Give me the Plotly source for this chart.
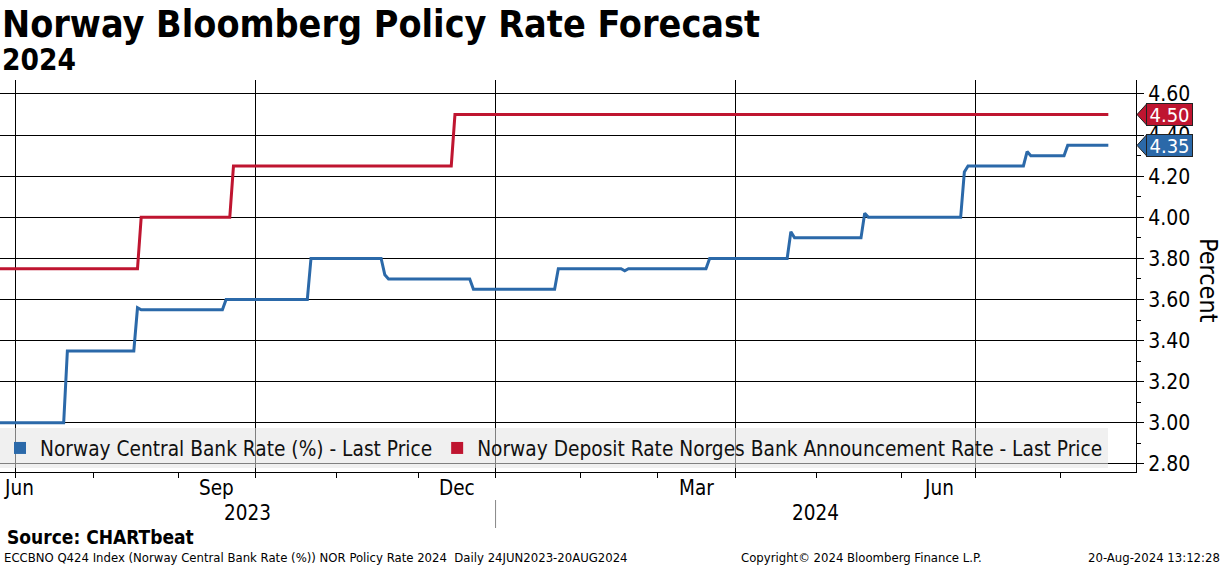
import plotly.graph_objects as go

# ---------------- data ----------------
TITLE = "Norway Bloomberg Policy Rate Forecast"
SUBTITLE = "2024"

BLUE_NAME = "Norway Central Bank Rate (%) - Last Price"
RED_NAME = "Norway Deposit Rate Norges Bank Announcement Rate - Last Price"

blue_dates = [
    "2023-06-26", "2023-07-20", "2023-07-21", "2023-08-16", "2023-08-17", "2023-08-18",
    "2023-09-19", "2023-09-20", "2023-10-20", "2023-10-23", "2023-11-17", "2023-11-20",
    "2023-11-21", "2023-12-21", "2023-12-22", "2024-01-23", "2024-01-24", "2024-02-16",
    "2024-02-19", "2024-02-20", "2024-03-20", "2024-03-21", "2024-04-19", "2024-04-22",
    "2024-04-23", "2024-05-17", "2024-05-20", "2024-05-21", "2024-06-25", "2024-06-26",
    "2024-06-27", "2024-07-18", "2024-07-19", "2024-07-22", "2024-08-02", "2024-08-05",
    "2024-08-20",
]
blue_values = [
    3.00, 3.00, 3.35, 3.35, 3.56, 3.55,
    3.55, 3.60, 3.60, 3.80, 3.80, 3.72,
    3.70, 3.70, 3.65, 3.65, 3.75, 3.75,
    3.74, 3.75, 3.75, 3.80, 3.80, 3.93,
    3.90, 3.90, 4.02, 4.00, 4.00, 4.22,
    4.25, 4.25, 4.32, 4.30, 4.30, 4.35,
    4.35,
]

red_dates = [
    "2023-06-26", "2023-08-17", "2023-08-18", "2023-09-21", "2023-09-22",
    "2023-12-14", "2023-12-15", "2024-08-20",
]
red_values = [3.75, 3.75, 4.00, 4.00, 4.25, 4.25, 4.50, 4.50]

y_tick_vals = [2.80, 3.00, 3.20, 3.40, 3.60, 3.80, 4.00, 4.20, 4.40, 4.60]
y_tick_text = ["2.80", "3.00", "3.20", "3.40", "3.60", "3.80", "4.00", "4.20", "4.40", "4.60"]
y_minor_vals = [2.90, 3.10, 3.30, 3.50, 3.70, 3.90, 4.10, 4.30, 4.50]
y_range = [2.761, 4.668]
Y_TITLE = "Percent"

# quarter boundaries (first trading day) and month boundaries
quarter_starts = ["2023-07-03", "2023-10-02", "2024-01-01", "2024-04-01", "2024-07-01"]
month_starts = ["2023-08-01", "2023-09-01", "2023-11-01", "2023-12-01",
                "2024-02-01", "2024-03-01", "2024-05-01", "2024-06-03", "2024-08-01"]
month_labels = ["Sep", "Dec", "Mar", "Jun"]
month_label_dates = ["2023-09-15 12:00", "2023-12-15 12:00", "2024-03-15 12:00", "2024-06-17"]
first_month_label = "Jun"
year_labels = ["2023", "2024"]
year_label_pos = [0.2183, 0.7183]
year_sep_date = "2024-01-01"
x_range = ["2023-06-26 18:00", "2024-08-29 12:00"]

SOURCE = "Source: CHARTbeat"
FOOT_LEFT = "ECCBNO Q424 Index (Norway Central Bank Rate (%)) NOR Policy Rate 2024&nbsp;&nbsp;Daily 24JUN2023-20AUG2024"
FOOT_MID = "Copyright\u00a9 2024 Bloomberg Finance L.P."
FOOT_RIGHT = "20-Aug-2024 13:12:28"

# ---------------- style ----------------
BLUE = "#2b69a9"
RED = "#bf1530"
FONT = "DejaVu Sans Condensed, DejaVu Sans, sans-serif"
W, H = 1224, 566
ML, MR, MT, MB = 0, 88, 80, 94
PW = W - ML - MR
PH = H - MT - MB


def py(pix):
    """pixel row -> paper y"""
    return (H - MB - pix) / PH


def px(pix):
    """pixel column -> paper x"""
    return (pix - ML) / PW


fig = go.Figure()

fig.add_trace(go.Scatter(x=red_dates, y=red_values, mode="lines",
                         line=dict(color=RED, width=3), showlegend=False, hoverinfo="skip"))
fig.add_trace(go.Scatter(x=blue_dates, y=blue_values, mode="lines",
                         line=dict(color=BLUE, width=3), showlegend=False, hoverinfo="skip"))
# legend entries (square swatches)
fig.add_trace(go.Scatter(x=[None], y=[None], mode="markers", name=BLUE_NAME,
                         marker=dict(symbol="square", size=12, color=BLUE)))
fig.add_trace(go.Scatter(x=[None], y=[None], mode="markers", name=RED_NAME,
                         marker=dict(symbol="square", size=12, color=RED)))

annotations = []
annotations.append(dict(text=f"<b>{TITLE}</b>", xref="paper", yref="paper", x=px(0), y=py(24),
                        xanchor="left", yanchor="middle", showarrow=False,
                        font=dict(size=37.4, color="#000", family=FONT)))
annotations.append(dict(text=f"<b>{SUBTITLE}</b>", xref="paper", yref="paper", x=px(0), y=py(60),
                        xanchor="left", yanchor="middle", showarrow=False,
                        font=dict(size=29.5, color="#000", family=FONT)))
# month labels
for lab, d in zip(month_labels, month_label_dates):
    annotations.append(dict(text=lab, xref="x", yref="paper", x=d, y=py(488),
                            xanchor="center", yanchor="middle", showarrow=False,
                            font=dict(size=20.5, color="#000", family=FONT)))
annotations.append(dict(text=first_month_label, xref="paper", yref="paper", x=px(2), y=py(488),
                        xanchor="left", yanchor="middle", showarrow=False,
                        font=dict(size=20.5, color="#000", family=FONT)))
for lab, xp in zip(year_labels, year_label_pos):
    annotations.append(dict(text=lab, xref="paper", yref="paper", x=xp, y=py(513),
                            xanchor="center", yanchor="middle", showarrow=False,
                            font=dict(size=20.5, color="#000", family=FONT)))
# y title
annotations.append(dict(text=Y_TITLE, xref="paper", yref="paper", x=px(1209), y=py(280),
                        xanchor="center", yanchor="middle", showarrow=False, textangle=90,
                        font=dict(size=25, color="#000", family=FONT)))
# footer
annotations.append(dict(text=f"<b>{SOURCE}</b>", xref="paper", yref="paper", x=px(5), y=py(537),
                        xanchor="left", yanchor="middle", showarrow=False,
                        font=dict(size=19, color="#000", family=FONT)))
annotations.append(dict(text=FOOT_LEFT, xref="paper", yref="paper", x=px(2), y=py(557),
                        xanchor="left", yanchor="middle", showarrow=False,
                        font=dict(size=13, color="#000", family=FONT)))
annotations.append(dict(text=FOOT_MID, xref="paper", yref="paper", x=px(739), y=py(557),
                        xanchor="left", yanchor="middle", showarrow=False,
                        font=dict(size=13, color="#000", family=FONT)))
annotations.append(dict(text=FOOT_RIGHT, xref="paper", yref="paper", x=px(1222), y=py(557),
                        xanchor="right", yanchor="middle", showarrow=False,
                        font=dict(size=13, color="#000", family=FONT)))

shapes = [dict(type="line", xref="x", yref="paper", x0=year_sep_date, x1=year_sep_date,
               y0=py(500), y1=py(528), line=dict(color="#888888", width=1))]

# last-value tags
upp = (y_range[1] - y_range[0]) / PH  # data units per pixel
for val, col in [(red_values[-1], RED), (blue_values[-1], BLUE)]:
    annotations.append(dict(text=f"{val:.2f}", xref="paper", yref="y", x=px(1146), y=val,
                            xanchor="left", yanchor="middle", showarrow=False,
                            width=45, height=21, align="center", valign="middle",
                            font=dict(size=20, color="#ffffff", family=FONT),
                            bgcolor=col, bordercolor="#222222", borderwidth=1, borderpad=0))
    tip = px(1137)
    base = px(1147)
    hh = 11 * upp
    shapes.append(dict(type="path", xref="paper", yref="y",
                       path=f"M {tip},{val} L {base},{val + hh} L {base},{val - hh} Z",
                       fillcolor=col, line=dict(color="#222222", width=1), layer="above"))

fig.update_layout(
    width=W, height=H,
    margin=dict(l=ML, r=MR, t=MT, b=MB, pad=0),
    paper_bgcolor="white", plot_bgcolor="white",
    font=dict(family=FONT, color="#000"),
    showlegend=True,
    legend=dict(orientation="h", x=0, y=py(428), xanchor="left", yanchor="top",
                bgcolor="rgba(228,228,228,0.56)", borderwidth=0,
                font=dict(size=20.7, color="#111", family=FONT)),
    annotations=annotations,
    shapes=shapes,
    xaxis=dict(
        type="date", range=x_range,
        rangebreaks=[dict(bounds=["sat", "mon"])],
        tickmode="array", tickvals=quarter_starts, showticklabels=False,
        ticks="outside", ticklen=5, tickcolor="#000", tickwidth=1,
        showgrid=True, gridcolor="#000", gridwidth=1,
        showline=True, linecolor="#000", linewidth=1,
        minor=dict(tickmode="array", tickvals=month_starts, ticks="outside", ticklen=5,
                   tickcolor="#000", tickwidth=1, showgrid=False),
        zeroline=False, fixedrange=True,
    ),
    yaxis=dict(
        side="right", range=y_range,
        tickmode="array", tickvals=y_tick_vals, ticktext=y_tick_text,
        ticks="outside", ticklen=7, tickcolor="#000", tickwidth=1,
        tickfont=dict(size=21, color="#000", family=FONT),
        showgrid=True, gridcolor="#000", gridwidth=1,
        showline=True, linecolor="#000", linewidth=1,
        minor=dict(tickmode="array", tickvals=y_minor_vals, ticks="outside", ticklen=4,
                   tickcolor="#000", tickwidth=1, showgrid=False),
        zeroline=False, fixedrange=True,
    ),
)

fig.write_html("out.html", config={"displayModeBar": False},
               post_script="document.body.style.margin='0';")
